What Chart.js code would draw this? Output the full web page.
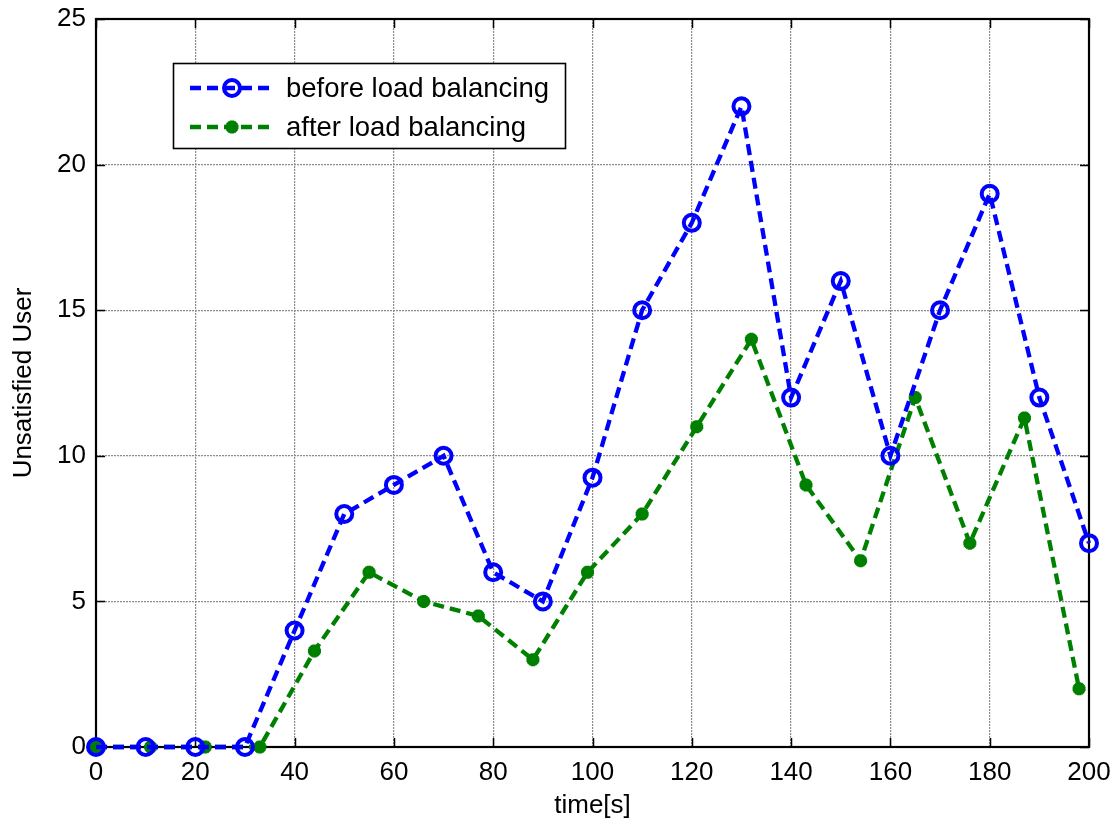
<!DOCTYPE html>
<html>
<head>
<meta charset="utf-8">
<script src="https://cdn.jsdelivr.net/npm/chart.js@4.4.1/dist/chart.umd.min.js"></script>
<style>
html,body{margin:0;padding:0;background:#fff;}
#wrap{width:1116px;height:821px;position:relative;}
</style>
</head>
<body>
<div id="wrap"><canvas id="c" width="1116" height="821"></canvas></div>
<script>
// ---- data ----
const timeBefore = [0,10,20,30,40,50,60,70,80,90,100,110,120,130,140,150,160,170,180,190,200];
const usersBefore = [0,0,0,0,4,8,9,10,6,5,9.25,15,18,22,12,16,10,15,19,12,7];
const timeAfter = [0,11,22,33,44,55,66,77,88,99,110,121,132,143,154,165,176,187,198];
const usersAfter = [0,0,0,0,3.3,6,5,4.5,3,6,8,11,14,9,6.4,12,7,11.3,2];
const xTicks = [0,20,40,60,80,100,120,140,160,180,200];
const yTicks = [0,5,10,15,20,25];
const seriesNames = ['before load balancing','after load balancing'];
const xTitle = 'time[s]';
const yTitle = 'Unsatisfied User';

const FONT = '"Liberation Sans", Arial, Helvetica, sans-serif';
const BLUE = '#0000ff';
const GREEN = '#008000';

function pts(xs, ys){ return xs.map((x,i)=>({x:x,y:ys[i]})); }

const framePlugin = {
  id:'frame',
  beforeDatasetsDraw(chart){
    const {ctx, chartArea:a, scales} = chart;
    ctx.save();
    ctx.strokeStyle = '#000';
    ctx.lineWidth = 1.5;
    const tl = 9;
    ctx.beginPath();
    xTicks.forEach(v=>{
      const px = Math.round(scales.x.getPixelForValue(v))+0.5;
      ctx.moveTo(px, a.bottom); ctx.lineTo(px, a.bottom-tl);
      ctx.moveTo(px, a.top); ctx.lineTo(px, a.top+tl);
    });
    yTicks.forEach(v=>{
      const py = Math.round(scales.y.getPixelForValue(v))+0.5;
      ctx.moveTo(a.left, py); ctx.lineTo(a.left+tl, py);
      ctx.moveTo(a.right, py); ctx.lineTo(a.right-tl, py);
    });
    ctx.stroke();
    ctx.lineWidth = 2.2;
    ctx.strokeRect(a.left, a.top, a.right-a.left, a.bottom-a.top);
    ctx.restore();
  },
  afterDraw(chart){
    const ctx = chart.ctx;
    const bx = 173, by = 63, bw = 392, bh = 85;
    ctx.save();
    ctx.fillStyle = '#fff';
    ctx.fillRect(bx, by, bw, bh);
    ctx.strokeStyle = '#000';
    ctx.lineWidth = 1.6;
    ctx.strokeRect(bx+0.5, by+0.5, bw, bh);
    const rows = [88, 127];
    chart.data.datasets.forEach((ds, i)=>{
      const y = rows[i];
      ctx.strokeStyle = ds.borderColor;
      ctx.lineWidth = ds.borderWidth;
      ctx.setLineDash(ds.borderDash);
      ctx.beginPath();
      ctx.moveTo(190, y); ctx.lineTo(274, y);
      ctx.stroke();
      ctx.setLineDash([]);
      ctx.fillStyle = ds.pointBackgroundColor;
      ctx.strokeStyle = ds.pointBorderColor;
      ctx.lineWidth = ds.pointBorderWidth;
      if (ds.pointStyle === 'circle') {
        ctx.beginPath();
        ctx.arc(232, y, ds.pointRadius, 0, Math.PI*2);
        ctx.stroke();
      } else {
        Chart.helpers.drawPoint(ctx, {pointStyle: ds.pointStyle, radius: ds.pointRadius, borderWidth: ds.pointBorderWidth, rotation:0}, 232, y);
      }
      ctx.fillStyle = '#000';
      ctx.font = '27.5px ' + FONT;
      ctx.textBaseline = 'middle';
      ctx.textAlign = 'left';
      ctx.fillText(seriesNames[i], 286, y+1);
    });
    ctx.restore();
  }
};

new Chart(document.getElementById('c'), {
  type:'line',
  data:{
    datasets:[
      {
        label: seriesNames[0],
        data: pts(timeBefore, usersBefore),
        borderColor: BLUE, borderWidth: 4.3, borderDash:[11,6],
        pointStyle:'circle', pointRadius: 8, pointBorderWidth: 4,
        pointBorderColor: BLUE, pointBackgroundColor:'rgba(0,0,0,0)',
        fill:false, tension:0, clip:false
      },
      {
        label: seriesNames[1],
        data: pts(timeAfter, usersAfter),
        borderColor: GREEN, borderWidth: 4.3, borderDash:[11,6],
        pointStyle:'star', pointRadius: 6.5, pointBorderWidth: 4.5,
        pointBorderColor: GREEN, pointBackgroundColor: GREEN,
        fill:false, tension:0, clip:false
      }
    ]
  },
  options:{
    responsive:false, animation:false, devicePixelRatio:1,
    layout:{padding:{top:19,right:27,left:0,bottom:0}},
    plugins:{legend:{display:false}, tooltip:{enabled:false}},
    scales:{
      x:{
        type:'linear', min:0, max:200,
        afterFit(s){ s.height = 74; s.paddingLeft = 0; s.paddingRight = 0; },
        afterBuildTicks(s){ s.ticks = xTicks.map(v=>({value:v})); },
        ticks:{ color:'#000', font:{family:FONT,size:26}, padding:10, maxRotation:0, autoSkip:false },
        grid:{ color:'#8c8c8c', lineWidth:1.2, drawTicks:false },
        border:{ display:false, dash:[2,1] },
        title:{ display:true, text:xTitle, color:'#000', font:{family:FONT,size:26}, padding:{top:0,bottom:0} }
      },
      y:{
        type:'linear', min:0, max:25,
        afterFit(s){ s.width = 96; s.paddingTop = 0; s.paddingBottom = 0; },
        afterBuildTicks(s){ s.ticks = yTicks.map(v=>({value:v})); },
        ticks:{ color:'#000', font:{family:FONT,size:26}, padding:10 },
        grid:{ color:'#8c8c8c', lineWidth:1.2, drawTicks:false },
        border:{ display:false, dash:[2,1] },
        title:{ display:true, text:yTitle, color:'#000', font:{family:FONT,size:26}, padding:{top:8,bottom:0} }
      }
    }
  },
  plugins:[framePlugin]
});
</script>
</body>
</html>
